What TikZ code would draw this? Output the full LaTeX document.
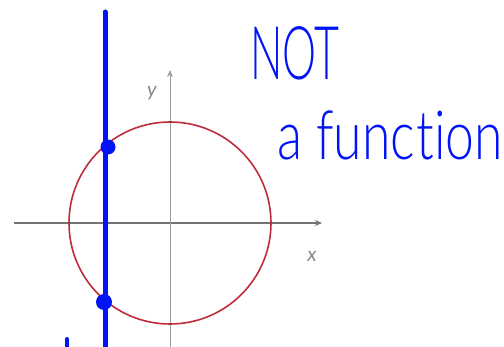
\documentclass[tikz,border=0pt]{standalone}
\usepackage{fontspec}
\setmainfont{Lato}
\newfontfamily\handfont{Lato Light}
\usetikzlibrary{arrows.meta}
\definecolor{pen}{RGB}{0,20,245}
\definecolor{axisgray}{RGB}{115,115,115}
\definecolor{circred}{RGB}{190,45,60}
\tikzset{
  axis/.style={axisgray, line width=1.1pt, -{Stealth[length=7pt,width=6pt]}},
  hand/.style={pen, inner sep=0pt, anchor=base west, transform shape},
  lbl/.style={axisgray!85, font=\fontsize{20}{20}\selectfont\itshape, inner sep=0pt}
}
\begin{document}
\begin{tikzpicture}[x=1pt,y=-1pt]
\useasboundingbox (0,0) rectangle (504,347);
\fill[white] (0,0) rectangle (504,347);
% axes
\draw[axis] (14,223) -- (322,223);
\draw[axis, line width=0.9pt, axisgray!70] (170,347) -- (170,70);
\node[lbl] (ylab) at (152,93) {y};
\node[lbl] (xlab) at (312,256) {x};
% circle
\draw[circred, line width=1.6pt] (170,223) circle[radius=101];
% vertical line test
\draw[pen, line width=5pt, line cap=round] (105,12) -- (105,347);
\fill[pen] (108,147) circle[radius=7.5];
\fill[pen] (104,302) circle[radius=8];
\draw[pen, line width=4pt, line cap=round] (67,339) -- (67,350);
% text
\node[hand, font=\fontsize{74}{74}\selectfont\handfont, xscale=0.58] (nottext) at (250,80) {NOT};
\node[hand, font=\fontsize{68}{68}\selectfont\handfont, xscale=0.76] (functext) at (277,160) {a func\kern2pt t\kern0pt ion};
\end{tikzpicture}
\end{document}
